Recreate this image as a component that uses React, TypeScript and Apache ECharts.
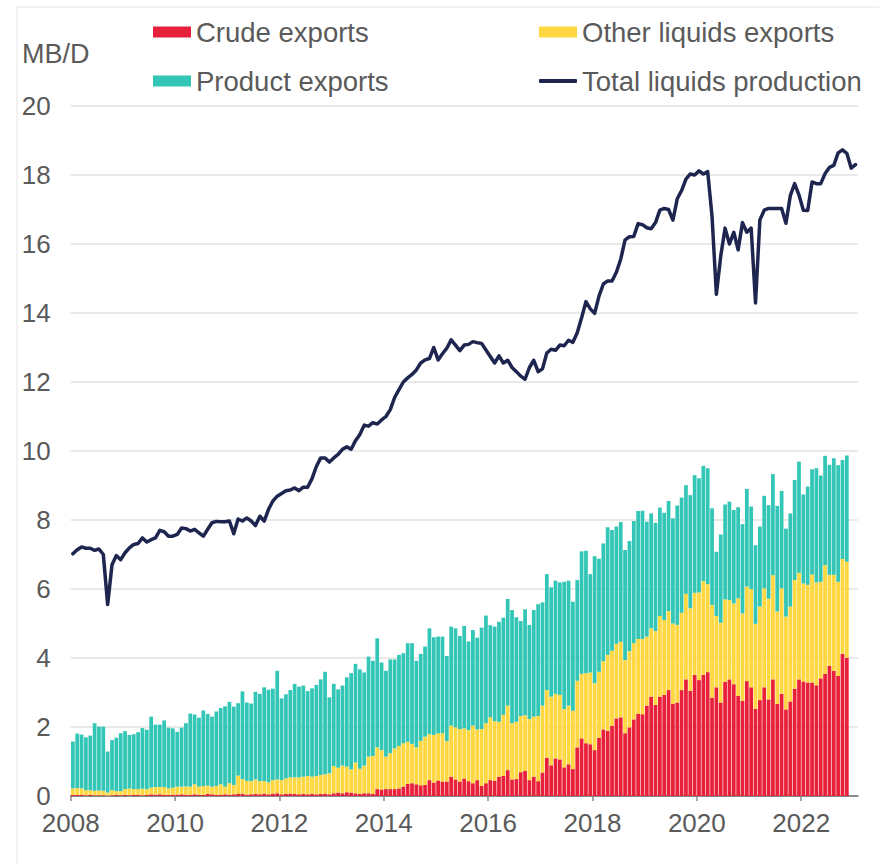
import React, { useEffect, useRef } from "react";
import * as echarts from "echarts";

// Monthly values, Jan 2008 onwards (MB/D)
const startYear = 2008;

const crudeExports = [
  0.03, 0.03, 0.03, 0.02, 0.03, 0.02, 0.02, 0.02, 0.01, 0.02, 0.03, 0.02,
  0.03, 0.02, 0.03, 0.03, 0.02, 0.03, 0.05, 0.04, 0.05, 0.03, 0.03, 0.04,
  0.04, 0.05, 0.04, 0.03, 0.05, 0.04, 0.03, 0.06, 0.05, 0.03, 0.04, 0.05,
  0.04, 0.05, 0.06, 0.07, 0.04, 0.05, 0.06, 0.05, 0.07, 0.05, 0.07, 0.08,
  0.05, 0.06, 0.07, 0.06, 0.05, 0.06, 0.05, 0.06, 0.05, 0.06, 0.07, 0.05,
  0.08, 0.10, 0.08, 0.11, 0.10, 0.08, 0.06, 0.08, 0.08, 0.06, 0.20, 0.19,
  0.20, 0.20, 0.20, 0.22, 0.27, 0.35, 0.37, 0.34, 0.31, 0.32, 0.46, 0.39,
  0.45, 0.42, 0.42, 0.56, 0.48, 0.42, 0.51, 0.43, 0.37, 0.46, 0.29, 0.37,
  0.46, 0.44, 0.56, 0.58, 0.75, 0.48, 0.49, 0.69, 0.73, 0.46, 0.56, 0.43,
  0.68, 1.11, 0.89, 1.09, 1.06, 0.83, 0.92, 0.78, 1.41, 1.67, 1.53, 1.50,
  1.33, 1.69, 1.93, 1.89, 2.04, 2.25, 2.28, 1.82, 1.99, 2.22, 2.38, 2.37,
  2.62, 2.88, 2.64, 2.88, 2.93, 3.07, 2.67, 2.71, 3.07, 3.38, 3.05, 3.51,
  3.36, 3.51, 3.59, 2.85, 3.15, 2.71, 3.31, 3.38, 3.24, 2.90, 2.76, 3.33,
  3.15, 2.53, 2.78, 3.15, 2.80, 3.38, 2.67, 2.96, 2.51, 2.74, 3.11, 3.38,
  3.32, 3.29, 3.29, 3.21, 3.41, 3.54, 3.77, 3.63, 3.48, 4.12, 4.01,
];

const otherLiquidsExports = [
  0.19, 0.20, 0.19, 0.15, 0.14, 0.13, 0.14, 0.13, 0.09, 0.15, 0.11, 0.12,
  0.17, 0.20, 0.17, 0.17, 0.19, 0.17, 0.19, 0.22, 0.21, 0.23, 0.19, 0.20,
  0.23, 0.22, 0.24, 0.24, 0.29, 0.23, 0.26, 0.24, 0.22, 0.26, 0.30, 0.22,
  0.33, 0.27, 0.53, 0.42, 0.40, 0.38, 0.42, 0.38, 0.36, 0.35, 0.39, 0.40,
  0.41, 0.45, 0.47, 0.48, 0.49, 0.50, 0.53, 0.50, 0.53, 0.55, 0.56, 0.61,
  0.79, 0.72, 0.80, 0.74, 0.67, 0.89, 0.73, 0.80, 1.06, 1.10, 1.21, 1.14,
  0.94, 1.04, 1.18, 1.23, 1.26, 1.22, 1.14, 1.07, 1.29, 1.40, 1.33, 1.38,
  1.37, 1.40, 1.17, 1.48, 1.51, 1.52, 1.45, 1.48, 1.67, 1.47, 1.65, 1.74,
  1.82, 1.73, 1.59, 1.77, 1.87, 1.63, 1.66, 1.63, 1.61, 1.77, 1.74, 1.89,
  1.94, 1.96, 1.99, 1.87, 1.87, 1.69, 1.70, 1.69, 1.93, 1.87, 2.03, 2.08,
  1.94, 1.91, 1.98, 2.20, 2.17, 2.16, 2.19, 2.12, 2.21, 2.21, 2.17, 2.18,
  2.00, 1.98, 2.14, 2.34, 2.17, 2.29, 2.33, 2.25, 2.24, 2.48, 2.39, 2.38,
  2.54, 2.72, 2.55, 2.69, 2.07, 2.31, 2.39, 2.30, 2.34, 2.83, 2.53, 2.74,
  2.85, 2.46, 2.71, 2.87, 2.92, 3.02, 2.68, 3.06, 2.69, 2.75, 3.15, 3.09,
  2.84, 2.83, 3.13, 2.98, 2.80, 3.15, 2.64, 2.78, 2.73, 2.75, 2.78,
];

const productExports = [
  1.36, 1.58, 1.56, 1.53, 1.58, 1.96, 1.85, 1.86, 1.19, 1.45, 1.55, 1.68,
  1.68, 1.55, 1.59, 1.65, 1.76, 1.72, 2.06, 1.81, 1.81, 1.93, 1.76, 1.72,
  1.59, 1.71, 1.83, 2.12, 2.02, 2.00, 2.19, 2.08, 2.03, 2.16, 2.21, 2.33,
  2.36, 2.27, 2.10, 2.54, 2.27, 2.25, 2.54, 2.53, 2.72, 2.68, 2.65, 3.15,
  2.37, 2.44, 2.53, 2.71, 2.63, 2.64, 2.46, 2.56, 2.64, 2.77, 2.97, 2.20,
  2.38, 2.27, 2.32, 2.59, 2.79, 2.86, 2.88, 2.70, 2.90, 2.76, 3.16, 2.54,
  2.49, 2.72, 2.58, 2.64, 2.61, 2.86, 2.92, 2.51, 2.52, 2.61, 3.07, 2.83,
  2.80, 2.80, 2.47, 2.87, 2.87, 2.70, 2.97, 2.57, 2.77, 2.66, 2.94, 3.12,
  2.67, 2.74, 2.90, 2.82, 3.09, 3.28, 3.03, 2.75, 3.07, 2.73, 3.09, 3.24,
  2.99, 3.36, 3.17, 3.28, 3.26, 3.69, 3.62, 3.16, 2.92, 3.55, 3.55, 2.85,
  3.68, 3.28, 3.41, 3.70, 3.50, 3.40, 3.47, 3.19, 3.19, 3.54, 3.71, 3.72,
  3.33, 3.33, 3.14, 3.14, 3.11, 3.19, 3.05, 3.46, 3.34, 3.15, 3.28, 3.41,
  3.31, 3.34, 3.36, 2.80, 1.86, 2.56, 2.75, 2.85, 2.71, 2.64, 2.59, 2.83,
  2.39, 2.28, 2.32, 2.68, 2.71, 2.93, 3.06, 2.82, 2.55, 2.70, 2.90, 3.22,
  2.58, 2.85, 3.05, 3.31, 3.08, 3.17, 3.19, 3.38, 3.38, 2.87, 3.08,
];

const totalLiquidsProduction = [
  7.02, 7.14, 7.22, 7.18, 7.18, 7.12, 7.16, 7.0, 5.55, 6.7, 6.97, 6.85,
  7.05, 7.19, 7.29, 7.32, 7.48, 7.36, 7.43, 7.48, 7.7, 7.66, 7.53, 7.53,
  7.58, 7.77, 7.75, 7.68, 7.73, 7.63, 7.53, 7.73, 7.92, 7.96, 7.95, 7.95,
  7.97, 7.6, 8.03, 7.97, 8.06, 7.97, 7.84, 8.11, 7.97, 8.31, 8.55, 8.69,
  8.77, 8.85, 8.87, 8.93, 8.85, 8.95, 8.95, 9.2, 9.55, 9.8, 9.8, 9.68,
  9.8, 9.9, 10.05, 10.12, 10.05, 10.3, 10.48, 10.75, 10.72, 10.82, 10.78, 10.9,
  11.0, 11.2, 11.55, 11.78, 12.0, 12.12, 12.22, 12.35, 12.55, 12.64, 12.68, 13.0,
  12.64, 12.82, 12.98, 13.22, 13.07, 12.91, 13.07, 13.09, 13.17, 13.14, 13.12, 12.93,
  12.74, 12.55, 12.76, 12.55, 12.63, 12.42, 12.3, 12.17, 12.08, 12.42, 12.63, 12.3,
  12.38, 12.84, 12.95, 12.92, 13.07, 13.05, 13.21, 13.15, 13.43, 13.86, 14.33, 14.12,
  13.99, 14.49, 14.84, 14.93, 14.93, 15.18, 15.56, 16.12, 16.21, 16.22, 16.59, 16.56,
  16.47, 16.44, 16.62, 16.98, 17.03, 17.0, 16.69, 17.31, 17.55, 17.88, 18.03, 18.0,
  18.12, 18.03, 18.1, 16.8, 14.54, 15.65, 16.46, 16.0, 16.34, 15.83, 16.62, 16.34,
  16.46, 14.29, 16.7, 16.98, 17.03, 17.03, 17.03, 17.03, 16.6, 17.4, 17.75, 17.42,
  16.98, 16.97, 17.8, 17.75, 17.75, 18.04, 18.22, 18.28, 18.64, 18.73, 18.63, 18.2,
  18.3,
];

const yearTicks = [2008, 2010, 2012, 2014, 2016, 2018, 2020, 2022];
const yTicks = [0, 2, 4, 6, 8, 10, 12, 14, 16, 18, 20];

const FONT = "Liberation Sans";
const TEXT = "#5a5a5a";
const RED = "#e8213b";
const YELLOW = "#ffd740";
const TEAL = "#33c6b6";
const NAVY = "#1e2650";
const MONTH_SLOTS = 181;

export default function App() {
  const ref = useRef<HTMLDivElement>(null);

  useEffect(() => {
    if (!ref.current) return;
    const chart = echarts.init(ref.current, null, { renderer: "svg" });

    const monthCategories = Array.from({ length: MONTH_SLOTS }, (_, i) => {
      const y = startYear + Math.floor(i / 12);
      const m = (i % 12) + 1;
      return `${y}-${m < 10 ? "0" + m : m}`;
    });
    const monthTicks = yearTicks.map((y) => (y - startYear) * 12);

    const legendBase = {
      padding: 0,
      itemWidth: 38,
      itemHeight: 11,
      icon: "rect",
      selectedMode: false,
      textStyle: { fontFamily: FONT, fontSize: 27.5, color: TEXT, lineHeight: 30 },
    };

    const barBase = {
      type: "bar",
      stack: "exports",
      barWidth: 3.75,
      xAxisIndex: 0,
      yAxisIndex: 0,
    };

    chart.setOption({
      animation: false,
      backgroundColor: "#ffffff",
      grid: {
        left: 70.7,
        right: 21.3,
        top: 106,
        bottom: 68,
        containLabel: false,
        outerBoundsMode: "none",
      },
      legend: [
        { ...legendBase, data: ["Crude exports"], left: 153, top: 17 },
        { ...legendBase, data: ["Other liquids exports"], left: 539, top: 17 },
        { ...legendBase, data: ["Product exports"], left: 153, top: 66 },
        {
          ...legendBase,
          itemHeight: 4,
          data: [{ name: "Total liquids production", icon: "roundRect" }],
          left: 539,
          top: 66,
        },
      ],
      xAxis: [
        {
          type: "category",
          data: monthCategories,
          boundaryGap: true,
          position: "bottom",
          show: false,
        },
        {
          type: "value",
          min: 0,
          max: MONTH_SLOTS,
          interval: 24,
          position: "bottom",
          axisLine: { show: true, onZero: false, lineStyle: { color: "#8a8a8a", width: 2 } },
          axisTick: {
            show: true,
            length: 5,
            customValues: monthTicks,
            lineStyle: { color: "#8a8a8a", width: 1.5 },
          },
          axisLabel: {
            customValues: monthTicks,
            formatter: (v: number) => String(startYear + Math.round(v / 12)),
            fontFamily: FONT,
            fontSize: 26,
            lineHeight: 20,
            color: TEXT,
            margin: 17,
          },
          splitLine: { show: false },
        },
      ],
      yAxis: {
        type: "value",
        min: 0,
        max: 20,
        interval: 2,
        axisLine: { show: false },
        axisTick: { show: false },
        axisLabel: {
          customValues: yTicks,
          fontFamily: FONT,
          fontSize: 26,
          lineHeight: 20,
          color: TEXT,
          margin: 20,
        },
        splitLine: { show: true, lineStyle: { color: "#e2e2e2", width: 1.5 } },
      },
      graphic: [
        {
          type: "line",
          shape: { x1: 17, y1: 7, x2: 879, y2: 7 },
          style: { stroke: "#e6e6e6", lineWidth: 1 },
          silent: true,
        },
        {
          type: "line",
          shape: { x1: 17, y1: 7, x2: 17, y2: 864 },
          style: { stroke: "#e6e6e6", lineWidth: 1 },
          silent: true,
        },
        {
          type: "text",
          left: 22,
          top: 40,
          style: { text: "MB/D", fontFamily: FONT, fontSize: 27, fill: TEXT },
        },
      ],
      series: [
        {
          ...barBase,
          name: "Crude exports",
          data: crudeExports,
          itemStyle: { color: RED },
        },
        {
          ...barBase,
          name: "Other liquids exports",
          data: otherLiquidsExports,
          itemStyle: { color: YELLOW },
        },
        {
          ...barBase,
          name: "Product exports",
          data: productExports,
          itemStyle: { color: TEAL },
        },
        {
          type: "line",
          name: "Total liquids production",
          data: totalLiquidsProduction,
          xAxisIndex: 0,
          yAxisIndex: 0,
          showSymbol: false,
          symbol: "none",
          z: 5,
          itemStyle: { color: NAVY },
          lineStyle: { color: NAVY, width: 3.5, join: "round", cap: "round" },
        },
      ],
    });

    return () => chart.dispose();
  }, []);

  return (
    <div
      ref={ref}
      style={{
        position: "fixed",
        left: 0,
        top: 0,
        width: 879,
        height: 864,
        background: "#ffffff",
      }}
    />
  );
}
